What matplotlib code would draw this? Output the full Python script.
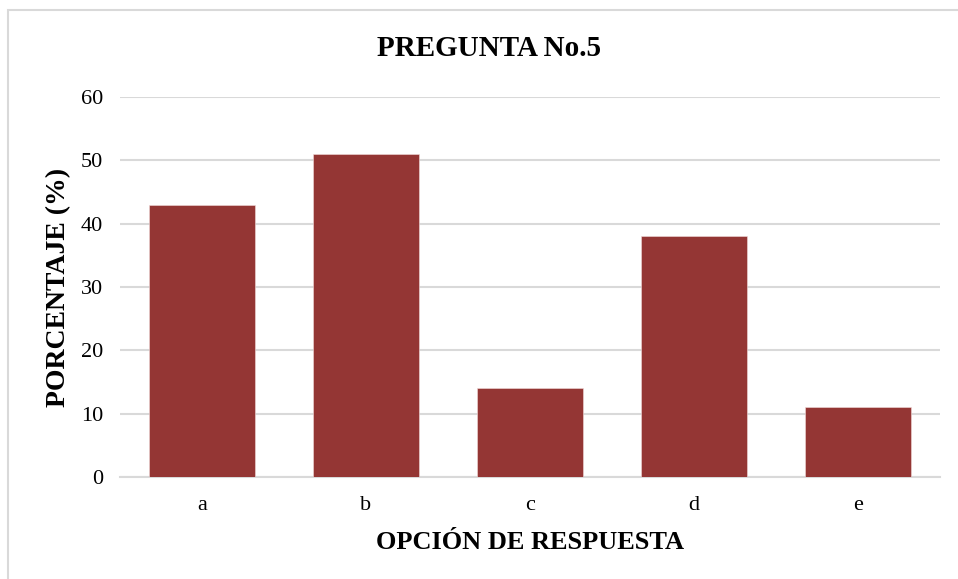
import matplotlib
matplotlib.use("Agg")
import matplotlib.pyplot as plt
from matplotlib.patches import Rectangle

categories = ["a", "b", "c", "d", "e"]
values = [43, 51, 14, 38, 11]
yticks = [0, 10, 20, 30, 40, 50, 60]

plt.rcParams["font.family"] = ["Liberation Serif", "DejaVu Serif"]

W, H = 958, 579
fig = plt.figure(figsize=(W / 100, H / 100), dpi=100)
ax = fig.add_axes([120 / W, 1 - 477 / H, 820 / W, 380 / H])

x = list(range(len(categories)))
ax.bar(x, values, width=0.645, color="#943634", edgecolor="#f2dcdb", linewidth=0.4, zorder=3)

ax.set_xlim(-0.5, len(categories) - 0.5)
ax.set_ylim(0, 60)
ax.set_yticks(yticks)
ax.set_xticks(x)
ax.set_xticklabels(categories)
ax.tick_params(axis="both", length=0, labelsize=16, colors="black")
ax.tick_params(axis="y", pad=12)
ax.tick_params(axis="x", pad=14)
ax.grid(axis="y", color="#d9d9d9", linewidth=1.5, zorder=0)
for s in ["top", "right", "left"]:
    ax.spines[s].set_visible(False)
ax.spines["bottom"].set_color("#d9d9d9")
ax.spines["bottom"].set_linewidth(1.5)

ax.set_ylabel("PORCENTAJE (%)", fontsize=20, fontweight="bold", labelpad=7)
ax.set_xlabel("OPCIÓN DE RESPUESTA", fontsize=19, fontweight="bold", labelpad=11)
fig.text(489 / W, 1 - 48 / H, "PREGUNTA No.5", fontsize=21, fontweight="bold",
         ha="center", va="center")

fig.patches.append(Rectangle((8 / W, -0.1), 2, 1.1 - 10 / H, transform=fig.transFigure,
                             fill=False, edgecolor="#d9d9d9", linewidth=1.5))

fig.savefig("out.png", dpi=100)
